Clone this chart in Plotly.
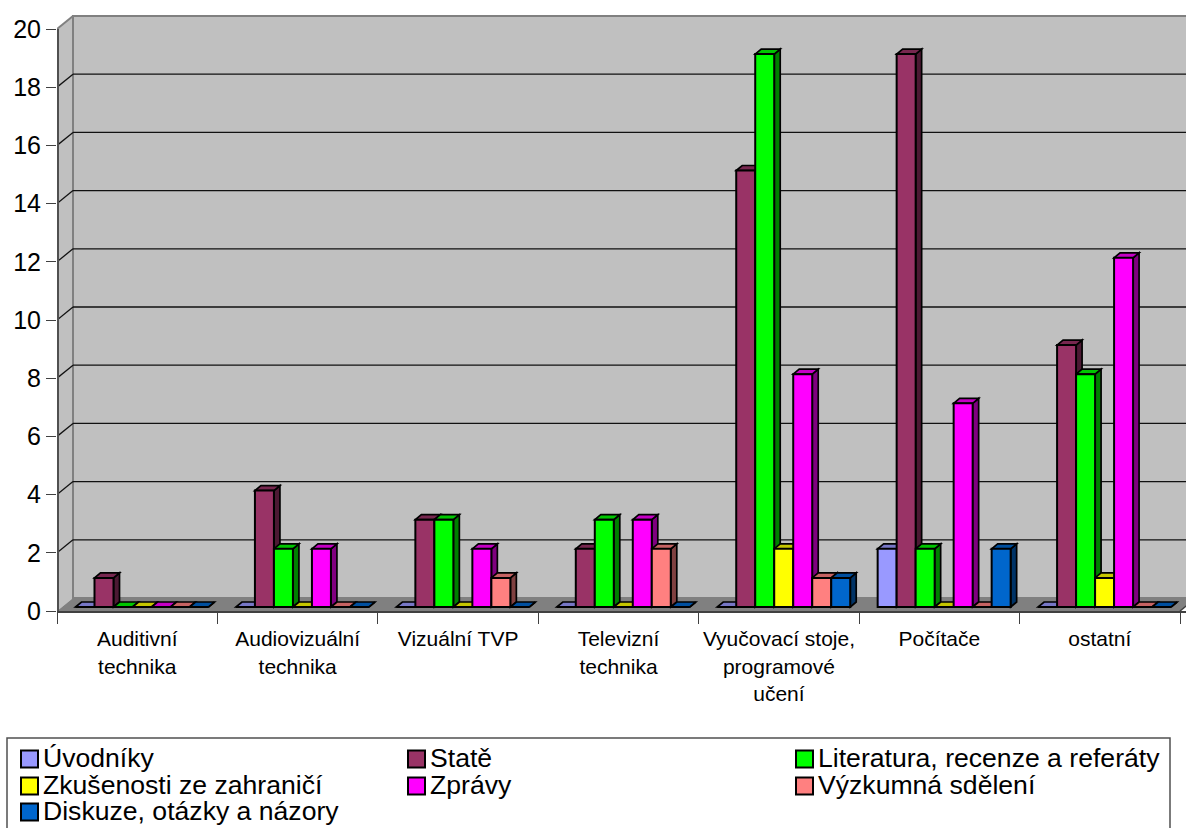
import plotly.graph_objects as go

# ---- data -------------------------------------------------------------
categories = [
    "Auditivní<br>technika",
    "Audiovizuální<br>technika",
    "Vizuální TVP",
    "Televizní<br>technika",
    "Vyučovací stoje,<br>programové<br>učení",
    "Počítače",
    "ostatní",
]

series_names = [
    "Úvodníky",
    "Statě",
    "Literatura, recenze a referáty",
    "Zkušenosti ze zahraničí",
    "Zprávy",
    "Výzkumná sdělení",
    "Diskuze, otázky a názory",
]

uvodniky = [0, 0, 0, 0, 0, 2, 0]
state = [1, 4, 3, 2, 15, 19, 9]
literatura = [0, 2, 3, 3, 19, 2, 8]
zkusenosti = [0, 0, 0, 0, 2, 0, 1]
zpravy = [0, 2, 2, 3, 8, 7, 12]
vyzkumna = [0, 0, 1, 2, 1, 0, 0]
diskuze = [0, 0, 0, 0, 1, 2, 0]

series_values = [uvodniky, state, literatura, zkusenosti, zpravy, vyzkumna, diskuze]
series_colors = ["#9999FF", "#993366", "#00FF00", "#FFFF00", "#FF00FF", "#FF8080", "#0066CC"]

y_ticks = list(range(0, 21, 2))

# ---- geometry (pixels) ------------------------------------------------
W, H = 1186, 828
PLOT_L, PLOT_R, PLOT_T, PLOT_B = 57, 1186, 14, 611
CAT_PX = 160.43          # width of one category on the front plane
UNIT_PX = 29.1           # pixels per value unit
WALL_DX, WALL_DY = 16, 13   # depth of the box (floor / side wall)
BAR_DX, BAR_DY = 6, 5       # depth of a single column
BAR_LIFT = 4                # columns stand a little behind the front edge
BAR_W = 19
GROUP_PAD = 18.5

FONT = "Liberation Sans, Arial, sans-serif"

n_cat = len(categories)
x_min = -0.5
x_max = -0.5 + (PLOT_R - PLOT_L) / CAT_PX
y_max = (PLOT_B - PLOT_T) / UNIT_PX
y_top = y_ticks[-1]


def fx(px):
    return px / CAT_PX


def fy(px):
    return px / UNIT_PX


def paper_x(px):
    return (px - PLOT_L) / (PLOT_R - PLOT_L)


def paper_y(py):
    return (PLOT_B - py) / (PLOT_B - PLOT_T)


def shade(hex_color, k):
    h = hex_color.lstrip("#")
    r, g, b = (int(h[i:i + 2], 16) for i in (0, 2, 4))
    return "#%02X%02X%02X" % (int(r * k), int(g * k), int(b * k))


def poly(points):
    return "M " + " L ".join(f"{x:.5f},{y:.5f}" for x, y in points) + " Z"


wx, wy = fx(WALL_DX), fy(WALL_DY)
bx, by = fx(BAR_DX), fy(BAR_DY)
left_x = -0.5
right_x = n_cat - 0.5

shapes = []

# side wall on the left
shapes.append(dict(
    type="path", layer="below", xref="x", yref="y",
    path=poly([(left_x, 0), (left_x + wx, wy), (left_x + wx, y_top + wy), (left_x, y_top)]),
    fillcolor="#C0C0C0", line=dict(width=0),
))
# back wall
shapes.append(dict(
    type="rect", layer="below", xref="x", yref="y",
    x0=left_x + wx, x1=right_x + wx + 1, y0=wy, y1=y_top + wy,
    fillcolor="#C0C0C0", line=dict(color="#808080", width=2),
))
# floor
shapes.append(dict(
    type="path", layer="below", xref="x", yref="y",
    path=poly([(left_x, 0), (right_x, 0), (right_x + wx, wy), (left_x + wx, wy)]),
    fillcolor="#808080", line=dict(width=0),
))
# grid lines on the back wall and on the side wall
for v in y_ticks[1:-1]:
    shapes.append(dict(type="line", layer="below", xref="x", yref="y",
                       x0=left_x + wx, x1=right_x + wx + 1, y0=v + wy, y1=v + wy,
                       line=dict(color="#111111", width=1.3)))
    shapes.append(dict(type="line", layer="below", xref="x", yref="y",
                       x0=left_x, x1=left_x + wx, y0=v, y1=v + wy,
                       line=dict(color="#111111", width=1.3)))
# top edge of the side wall
shapes.append(dict(type="line", layer="below", xref="x", yref="y",
                   x0=left_x, x1=left_x + wx, y0=y_top, y1=y_top + wy,
                   line=dict(color="#808080", width=2)))
# front vertical edge (value axis)
shapes.append(dict(type="line", layer="below", xref="x", yref="y",
                   x0=left_x + fx(1), x1=left_x + fx(1), y0=0, y1=y_top,
                   line=dict(color="#505050", width=2)))
# right end of the floor
shapes.append(dict(type="line", layer="below", xref="x", yref="y",
                   x0=right_x, x1=right_x + wx, y0=0, y1=wy,
                   line=dict(color="#404040", width=1.5)))

# ---- columns ----------------------------------------------------------
fig = go.Figure()
base = fy(BAR_LIFT)
bar_w = fx(BAR_W)
for i, (name, vals, col) in enumerate(zip(series_names, series_values, series_colors)):
    offset = -0.5 + fx(GROUP_PAD) + i * bar_w
    top_col = shade(col, 0.78)
    side_col = shade(col, 0.5)
    for k, v in enumerate(vals):
        x0 = k + offset
        x1 = x0 + bar_w
        t = base + v
        # right-hand side face
        shapes.append(dict(
            type="path", layer="below", xref="x", yref="y",
            path=poly([(x1, base), (x1 + bx, base + by), (x1 + bx, t + by), (x1, t)]),
            fillcolor=side_col, line=dict(color="black", width=1.7),
        ))
        # top face
        shapes.append(dict(
            type="path", layer="below", xref="x", yref="y",
            path=poly([(x0, t), (x1, t), (x1 + bx, t + by), (x0 + bx, t + by)]),
            fillcolor=top_col, line=dict(color="black", width=1.7),
        ))
    # front faces
    fig.add_trace(go.Bar(
        name=name, x=categories, y=vals, base=base,
        offset=offset, width=bar_w,
        marker=dict(color=col, line=dict(color="black", width=2)),
        showlegend=False,
        hovertemplate="%{x}<br>" + name + ": %{y}<extra></extra>",
    ))

# ---- legend (three columns in a framed box) ---------------------------
annotations = []
LEG_COLS_X = [21, 408, 796]
LEG_ROWS_Y = [759, 786, 812]
MARK = 17
shapes.append(dict(type="rect", xref="paper", yref="paper", layer="above",
                   x0=paper_x(7), x1=paper_x(1170), y0=paper_y(738), y1=paper_y(850),
                   fillcolor="rgba(0,0,0,0)", line=dict(color="#505050", width=1.5)))
for j, (name, col) in enumerate(zip(series_names, series_colors)):
    cx = LEG_COLS_X[j % 3]
    cy = LEG_ROWS_Y[j // 3]
    shapes.append(dict(type="rect", xref="paper", yref="paper", layer="above",
                       x0=paper_x(cx), x1=paper_x(cx + MARK),
                       y0=paper_y(cy + MARK / 2), y1=paper_y(cy - MARK / 2),
                       fillcolor=col, line=dict(color="black", width=2)))
    annotations.append(dict(
        xref="paper", yref="paper", x=paper_x(cx + MARK + 4), y=paper_y(cy - 1),
        xanchor="left", yanchor="middle", showarrow=False, text=name,
        borderpad=0,
        font=dict(family=FONT, size=26.6, color="black"),
    ))

fig.update_layout(
    width=W, height=H,
    margin=dict(l=PLOT_L, r=W - PLOT_R, t=PLOT_T, b=H - PLOT_B, pad=0),
    paper_bgcolor="white", plot_bgcolor="white",
    barmode="overlay",
    showlegend=False,
    shapes=shapes,
    annotations=annotations,
    xaxis=dict(
        type="category", categoryorder="array", categoryarray=categories,
        range=[x_min, x_max], showgrid=False, zeroline=False,
        showline=True, linecolor="#404040", linewidth=2,
        ticks="outside", ticklen=11, tickwidth=1, tickcolor="#404040",
        tickson="boundaries", tickangle=0, ticklabelstandoff=8,
        tickfont=dict(family=FONT, size=21, color="black"),
        fixedrange=True,
    ),
    yaxis=dict(
        range=[0, y_max], tickvals=y_ticks, showgrid=False, zeroline=False,
        showline=False, ticks="outside", ticklen=10, tickwidth=1, tickcolor="#404040",
        tickfont=dict(family=FONT, size=25, color="black"),
        fixedrange=True,
    ),
)

fig.write_html("out.html")
